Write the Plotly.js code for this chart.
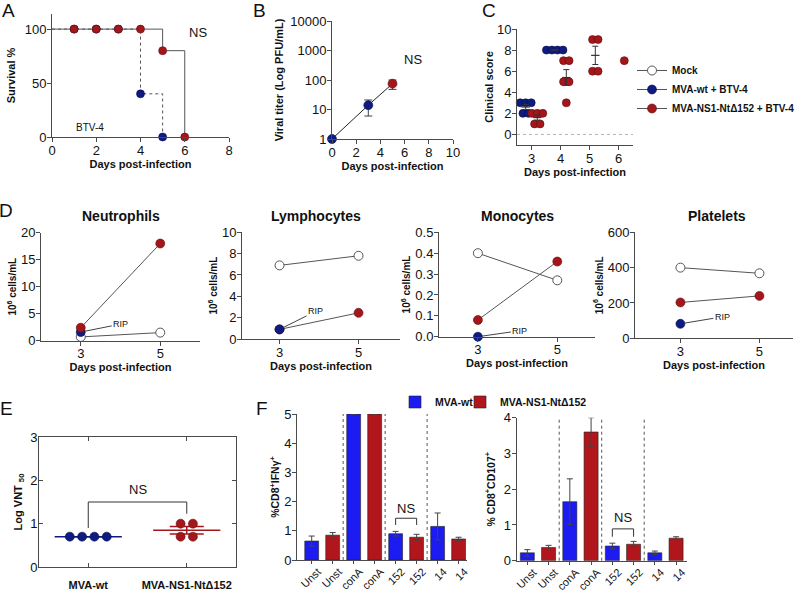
<!DOCTYPE html>
<html><head><meta charset="utf-8">
<script src="https://cdn.plot.ly/plotly-3.0.1.min.js"></script>
<style>html,body{margin:0;padding:0;background:#fff}#chart{width:800px;height:591px}</style>
</head><body><div id="chart"></div>
<script>
// ---------------- data ----------------
// A: survival
const survivalDays = [0, 1, 2, 3, 4, 5, 6];
const survivalWt   = [100, 100, 100, 100, 40, 0, null];
const survivalNs1  = [100, 100, 100, 100, 100, 80, 0];
// B: viral titer
const titerDays     = [0, 3, 5];
const titerMean     = [1, 14, 75];
const titerErrPlus  = [0, 7, 25];
const titerErrMinus = [0, 8, 27];
const titerGroup    = ['wt', 'wt', 'ns1'];
// C: clinical score
const clinicalDays = [3, 4, 5, 6];
const clinicalWt   = [[3, 3, 3, 2, 2], [8, 8, 8, 8], [], []];
const clinicalNs1  = [[2, 2, 2, 1, 1], [7, 7, 5, 5, 3], [9, 9, 6, 6], [7]];
// D: blood counts
const bloodDays  = [3, 5];
const neutroMock = [0.7, 1.5],  neutroWt = [1.6, null],  neutroNs1 = [2.4, 18];
const lymphoMock = [6.9, 7.8],  lymphoWt = [0.9, null],  lymphoNs1 = [0.9, 2.45];
const monoMock   = [0.4, 0.27], monoWt   = [0.0, null],  monoNs1   = [0.08, 0.36];
const plateMock  = [400, 368],  plateWt  = [82, null],   plateNs1  = [203, 240];
// E: neutralising titers
const vntGroups = ['MVA-wt', 'MVA-NS1-NtΔ152'];
const vntWt  = [0.7, 0.7, 0.7, 0.7];
const vntNs1 = [1.0, 1.0, 0.7, 0.7];
// F: T-cell responses
const stimuli     = ['Unst', 'conA', '152', '14'];
const ifnWt       = [0.65, 5, 0.90, 1.15];
const ifnWtErr    = [0.17, 0, 0.08, 0.46];
const ifnNs1      = [0.85, 5, 0.78, 0.72];
const ifnNs1Err   = [0.09, 0, 0.10, 0.06];
const cd107Wt     = [0.22, 1.65, 0.41, 0.22];
const cd107WtErr  = [0.09, 0.64, 0.08, 0.05];
const cd107Ns1    = [0.37, 3.60, 0.46, 0.63];
const cd107Ns1Err = [0.06, 0.40, 0.08, 0.04];

// ---------------- style ----------------
const FONT = 'Liberation Sans, Arial, sans-serif';
const W = 800, H = 591;
const RED = '#a5161b', RED_EDGE = '#5c0b0d';
const NAVY = '#0d1b82', NAVY_EDGE = '#060d45';
const BAR_BLUE = '#1c1cf2', BAR_RED = '#b0161b';
const LINE_GRAY = '#555';
const xd = (a, b) => [a / W, b / W];
const yd = (t, b) => [1 - b / H, 1 - t / H];

function axis(domain, o) {
  return Object.assign({
    domain: domain, showline: true, linecolor: '#4a4a4a', linewidth: 1,
    ticks: 'outside', ticklen: 4, tickwidth: 1, tickcolor: '#4a4a4a',
    showgrid: false, zeroline: false, automargin: false, fixedrange: true,
    tickfont: {family: FONT, size: 13, color: '#111'}
  }, o || {});
}
function xax(domain, o) { return axis(domain, Object.assign({ticklabelstandoff: -3}, o)); }
function yax(domain, o) { return axis(domain, Object.assign({ticklabelstandoff: -2}, o)); }
function ttl(text, size, standoff) {
  return {text: text, font: {family: FONT, size: size, color: '#111', weight: 'bold'}, standoff: standoff};
}
function mean(a) { return a.reduce((s, v) => s + v, 0) / a.length; }
function sem(a) {
  if (a.length < 2) return 0;
  const m = mean(a);
  const sd = Math.sqrt(a.reduce((s, v) => s + (v - m) * (v - m), 0) / (a.length - 1));
  return sd / Math.sqrt(a.length);
}
// spread identical values side by side around a centre
function spread(values, centre, dx) {
  const counts = {}, seen = {};
  values.forEach(v => { counts[v] = (counts[v] || 0) + 1; });
  return values.map(v => {
    const i = seen[v] || 0; seen[v] = i + 1;
    return centre + (i - (counts[v] - 1) / 2) * dx;
  });
}

const traces = [];
const base = {showlegend: false, hoverinfo: 'skip', cliponaxis: false};
function add(t) { traces.push(Object.assign({}, base, t)); }
const dotWt  = {size: 8, color: NAVY, line: {color: NAVY_EDGE, width: 0.6}};
const dotNs1 = {size: 8, color: RED, line: {color: RED_EDGE, width: 0.6}};

// ---------- A ----------
add({x: survivalDays, y: survivalWt, xaxis: 'x', yaxis: 'y', mode: 'lines',
     line: {shape: 'hv', color: LINE_GRAY, width: 1, dash: 'dot'}});
add({x: survivalDays, y: survivalNs1, xaxis: 'x', yaxis: 'y', mode: 'lines',
     line: {shape: 'hv', color: LINE_GRAY, width: 1}});
add({x: survivalDays.slice(1), y: survivalWt.slice(1), xaxis: 'x', yaxis: 'y', mode: 'markers', marker: dotWt});
add({x: survivalDays.slice(1), y: survivalNs1.slice(1), xaxis: 'x', yaxis: 'y', mode: 'markers', marker: dotNs1});

// ---------- B ----------
add({x: titerDays, y: titerMean, xaxis: 'x2', yaxis: 'y2', mode: 'lines', line: {color: '#222', width: 1}});
['wt', 'ns1'].forEach(g => {
  const idx = titerGroup.map((v, i) => v === g ? i : -1).filter(i => i >= 0);
  add({x: idx.map(i => titerDays[i]), y: idx.map(i => titerMean[i]), xaxis: 'x2', yaxis: 'y2', mode: 'markers',
       marker: Object.assign({}, g === 'wt' ? dotWt : dotNs1, {size: 9}),
       error_y: {type: 'data', symmetric: false, array: idx.map(i => titerErrPlus[i]),
                 arrayminus: idx.map(i => titerErrMinus[i]), color: '#444', thickness: 1, width: 4}});
});

// ---------- C ----------
[[clinicalWt, -0.2, dotWt], [clinicalNs1, 0.2, dotNs1]].forEach(([groups, off, mk]) => {
  const xs = [], ys = [], mx = [], my = [], me = [];
  groups.forEach((vals, i) => {
    if (!vals.length) return;
    const c = clinicalDays[i] + off;
    spread(vals, c, 0.19).forEach((x, k) => { xs.push(x); ys.push(vals[k]); });
    if (vals.length > 1) { mx.push(c); my.push(mean(vals)); me.push(sem(vals)); }
  });
  add({x: xs, y: ys, xaxis: 'x3', yaxis: 'y3', mode: 'markers', marker: Object.assign({}, mk, {size: 8})});
  add({x: mx, y: my, xaxis: 'x3', yaxis: 'y3', mode: 'markers',
       marker: {symbol: 'line-ew', size: 6, line: {color: '#333', width: 1.2}},
       error_y: {type: 'data', array: me, color: '#333', thickness: 1, width: 3}});
});

// ---------- D ----------
const dPanels = [
  [neutroMock, neutroWt, neutroNs1, 'x4', 'y4', true],
  [lymphoMock, lymphoWt, lymphoNs1, 'x5', 'y5', false],
  [monoMock, monoWt, monoNs1, 'x6', 'y6', false],
  [plateMock, plateWt, plateNs1, 'x7', 'y7', false]
];
dPanels.forEach(([mock, wt, ns1, xa, ya, leg]) => {
  const common = {x: bloodDays, xaxis: xa, yaxis: ya, mode: 'lines+markers', line: {color: LINE_GRAY, width: 1}};
  const tMock = Object.assign({}, common, {y: mock, name: 'Mock', showlegend: leg, legendrank: 1,
      marker: {size: 9, color: '#fff', line: {color: LINE_GRAY, width: 1}}});
  const tWt = Object.assign({}, common, {y: wt, name: 'MVA-wt + BTV-4', showlegend: leg, legendrank: 2,
      marker: Object.assign({}, dotWt, {size: 9})});
  const tNs1 = Object.assign({}, common, {y: ns1, name: 'MVA-NS1-NtΔ152 + BTV-4', showlegend: leg, legendrank: 3,
      marker: Object.assign({}, dotNs1, {size: 9})});
  if (leg) { add(tMock); add(tWt); add(tNs1); } else { add(tMock); add(tNs1); add(tWt); }
});

// ---------- E ----------
[[vntWt, 0, NAVY, NAVY_EDGE], [vntNs1, 1, RED, RED_EDGE]].forEach(([vals, c, col, edge]) => {
  add({x: [c], y: [mean(vals)], xaxis: 'x8', yaxis: 'y8', mode: 'markers',
       marker: {symbol: 'line-ew', size: 48, line: {color: col, width: 1.5}},
       error_y: {type: 'data', array: [sem(vals)], color: col, thickness: 1.5, width: 17}});
  add({x: spread(vals, c, 0.125), y: vals, xaxis: 'x8', yaxis: 'y8', mode: 'markers',
       marker: {size: 9, color: col, line: {color: edge, width: 0.6}}});
});

// ---------- F ----------
const fPos = stimuli.map((s, i) => 2 * i);
const fTickVals = [], fTickText = [];
stimuli.forEach((s, i) => { fTickVals.push(2 * i, 2 * i + 1); fTickText.push(s, s); });
[[ifnWt, ifnWtErr, ifnNs1, ifnNs1Err, 'x9', 'y9', true],
 [cd107Wt, cd107WtErr, cd107Ns1, cd107Ns1Err, 'x10', 'y10', false]].forEach(([wv, we, nv, ne, xa, ya, leg]) => {
  add({type: 'bar', x: fPos, y: wv, xaxis: xa, yaxis: ya, width: 0.66, name: 'MVA-wt',
       showlegend: leg, legend: 'legend2', cliponaxis: true,
       marker: {color: BAR_BLUE, line: {color: '#222', width: 0.6}},
       error_y: {type: 'data', array: we, color: '#444', thickness: 1, width: 3}});
  add({type: 'bar', x: fPos.map(p => p + 1), y: nv, xaxis: xa, yaxis: ya, width: 0.66, name: 'MVA-NS1-NtΔ152',
       showlegend: leg, legend: 'legend3', cliponaxis: true,
       marker: {color: BAR_RED, line: {color: '#222', width: 0.6}},
       error_y: {type: 'data', array: ne, color: '#444', thickness: 1, width: 3}});
});

// ---------------- layout ----------------
const shapes = [];
shapes.push({type: 'line', xref: 'x3 domain', x0: 0, x1: 1, yref: 'y3', y0: 0, y1: 0,
             line: {color: '#b5b5b5', width: 1, dash: 'dot'}});
[['x9', 'y9'], ['x10', 'y10']].forEach(([xa, ya]) => {
  [1.5, 3.5, 5.5].forEach(p => shapes.push({type: 'line', xref: xa, x0: p, x1: p,
    yref: ya + ' domain', y0: 0, y1: 1, line: {color: '#555', width: 1, dash: 'dot'}}));
});
const bracket = (xa, ya, path) => ({type: 'path', xref: xa, yref: ya, path: path, line: {color: '#333', width: 1}});
shapes.push(bracket('x8', 'y8', 'M0,0.9 L0,1.5 L1,1.5 L1,1.23'));
shapes.push(bracket('x9', 'y9', 'M4,1.2 L4,1.43 L5,1.43 L5,1.2'));
shapes.push(bracket('x10', 'y10', 'M4,0.67 L4,0.89 L5,0.89 L5,0.67'));

const ann = [];
const txt = (x, y, text, size, o) => ann.push(Object.assign({x: x, y: y, text: text, showarrow: false,
  xanchor: 'center', yanchor: 'middle', font: {family: FONT, size: size, color: '#111'}}, o || {}));
// panel letters
[['A', 8, 11], ['B', 259, 11], ['C', 489, 10], ['D', 6, 211], ['E', 6, 408], ['F', 262, 408]].forEach(([l, x, y]) =>
  txt(x / W, 1 - y / H, l, 19, {xref: 'paper', yref: 'paper'}));
txt(6.6, 97, 'NS', 13, {xref: 'x', yref: 'y'});
txt(1.0, 9, 'BTV-4', 10, {xref: 'x', yref: 'y', xanchor: 'left'});
txt(6.7, 2.68, 'NS', 13, {xref: 'x2', yref: 'y2'});
txt(0.5, 1.78, 'NS', 13, {xref: 'x8', yref: 'y8'});
txt(4.5, 1.78, 'NS', 13, {xref: 'x9', yref: 'y9'});
txt(4.5, 1.22, 'NS', 13, {xref: 'x10', yref: 'y10'});
[['Neutrophils', 121], ['Lymphocytes', 316], ['Monocytes', 517], ['Platelets', 717]].forEach(([t, x]) =>
  txt(x / W, 1 - 216 / H, t, 14, {xref: 'paper', yref: 'paper', font: {family: FONT, size: 14, color: '#111', weight: 'bold'}}));
// RIP notes (arrow points at the last MVA-wt value)
[['x4', 'y4', neutroWt[0], 40, -8], ['x5', 'y5', lymphoWt[0], 36, -18],
 ['x6', 'y6', monoWt[0], 42, -6], ['x7', 'y7', plateWt[0], 42, -7]].forEach(([xa, ya, v, axp, ayp]) =>
  ann.push({x: bloodDays[0], y: v, xref: xa, yref: ya, text: 'RIP', showarrow: true, arrowhead: 0,
            arrowwidth: 1, arrowcolor: '#444', ax: axp, ay: ayp, standoff: 4.5,
            font: {family: FONT, size: 9, color: '#111'}}));

const legFont = {family: FONT, size: 10.5, color: '#111', weight: 'bold'};
const fTick = {family: FONT, size: 11, color: '#111'};
const layout = {
  width: W, height: H, margin: {l: 0, r: 0, t: 0, b: 0},
  paper_bgcolor: '#fff', plot_bgcolor: 'rgba(0,0,0,0)',
  font: {family: FONT, color: '#111'},
  showlegend: true,
  legend: {x: 632 / W, y: 1 - 56 / H, xanchor: 'left', yanchor: 'top', bgcolor: 'rgba(0,0,0,0)',
           font: {family: FONT, size: 10, color: '#111', weight: 'bold'}, itemwidth: 30, tracegroupgap: 0},
  legend2: {orientation: 'h', x: 395 / W, y: 1 - 402 / H, xanchor: 'left', yanchor: 'middle',
            bgcolor: 'rgba(0,0,0,0)', font: legFont, itemwidth: 30},
  legend3: {orientation: 'h', x: 460 / W, y: 1 - 402 / H, xanchor: 'left', yanchor: 'middle',
            bgcolor: 'rgba(0,0,0,0)', font: legFont, itemwidth: 30},
  // A
  xaxis: xax(xd(52, 229), {anchor: 'y', range: [0, 8], tickvals: [0, 2, 4, 6, 8],
          title: ttl('Days post-infection', 11, 2)}),
  yaxis: yax(yd(14, 137), {anchor: 'x', range: [0, 114], tickvals: [0, 50, 100],
          title: ttl('Survival %', 11, 6)}),
  // B
  xaxis2: xax(xd(332, 453), {anchor: 'y2', range: [0, 10], tickvals: [0, 2, 4, 6, 8, 10],
          title: ttl('Days post-infection', 11, 2)}),
  yaxis2: yax(yd(21, 139), {anchor: 'x2', type: 'log', range: [0, 4], tickvals: [1, 10, 100, 1000, 10000],
          ticktext: ['1', '10', '100', '1000', '10000'], title: ttl('Viral titer (Log PFU/mL)', 11, 4)}),
  // C
  xaxis3: xax(xd(517, 633), {anchor: 'y3', range: [2.5, 6.5], tickvals: [3, 4, 5, 6],
          title: ttl('Days post-infection', 11, 2)}),
  yaxis3: yax(yd(29, 145), {anchor: 'x3', range: [-1, 10], tickvals: [0, 2, 4, 6, 8, 10],
          title: ttl('Clinical score', 11, 1)}),
  // D
  xaxis4: xax(xd(41, 200), {anchor: 'y4', range: [2, 6], tickvals: bloodDays, title: ttl('Days post-infection', 11, 1)}),
  yaxis4: yax(yd(232.7, 340.7), {anchor: 'x4', range: [0, 20], tickvals: [0, 5, 10, 15, 20],
          title: ttl('10<sup>6</sup> cells/mL', 10, 2)}),
  xaxis5: xax(xd(242, 400), {anchor: 'y5', range: [2.05, 6.05], tickvals: bloodDays, title: ttl('Days post-infection', 11, 1)}),
  yaxis5: yax(yd(232.3, 339), {anchor: 'x5', range: [0, 10], tickvals: [0, 2, 4, 6, 8, 10],
          title: ttl('10<sup>6</sup> cells/mL', 10, 2)}),
  xaxis6: xax(xd(439, 595), {anchor: 'y6', range: [2.02, 5.95], tickvals: bloodDays, title: ttl('Days post-infection', 11, 1)}),
  yaxis6: yax(yd(232.3, 336.7), {anchor: 'x6', range: [0, 0.5], tickvals: [0, 0.1, 0.2, 0.3, 0.4, 0.5],
          tickformat: '.1f', title: ttl('10<sup>6</sup> cells/mL', 10, 2)}),
  xaxis7: xax(xd(635, 793), {anchor: 'y7', range: [1.85, 5.85], tickvals: bloodDays, title: ttl('Days post-infection', 11, 1)}),
  yaxis7: yax(yd(232.3, 338.3), {anchor: 'x7', range: [0, 600], tickvals: [0, 200, 400, 600],
          title: ttl('10<sup>6</sup> cells/mL', 10, 2)}),
  // E
  xaxis8: axis(xd(39, 236), {anchor: 'y8', range: [-0.5, 1.5], tickvals: [0, 1], ticktext: vntGroups,
          ticks: 'inside', mirror: 'ticks', ticklabelstandoff: 8,
          tickfont: {family: FONT, size: 11, color: '#111', weight: 'bold'}}),
  yaxis8: yax(yd(437, 567), {anchor: 'x8', range: [0, 3], tickvals: [0, 1, 2, 3], ticks: 'inside', mirror: 'ticks',
          title: ttl('Log VNT <sub>50</sub>', 11, 5)}),
  // F
  xaxis9: axis(xd(297, 467), {anchor: 'y9', range: [-0.7, 7.4], tickvals: fTickVals, ticktext: fTickText,
          tickangle: -45, ticklen: 3, ticklabelstandoff: -3, ticklabelshift: 6, tickfont: fTick}),
  yaxis9: yax(yd(414, 560), {anchor: 'x9', range: [0, 5], tickvals: [0, 1, 2, 3, 4, 5],
          title: ttl('%CD8<sup>+</sup>IFNγ<sup>+</sup>', 10.5, 2)}),
  xaxis10: axis(xd(516.7, 686.7), {anchor: 'y10', range: [-0.5, 7.5], tickvals: fTickVals, ticktext: fTickText,
          tickangle: -45, ticklen: 3, ticklabelstandoff: -3, ticklabelshift: 6, tickfont: fTick}),
  yaxis10: yax(yd(417.7, 560.7), {anchor: 'x10', range: [0, 4], tickvals: [0, 1, 2, 3, 4],
          title: ttl('% CD8<sup>+</sup>CD107<sup>+</sup>', 10.5, 6)}),
  shapes: shapes,
  annotations: ann
};

Plotly.newPlot('chart', traces, layout, {staticPlot: true, displayModeBar: false});
</script>
</body></html>
